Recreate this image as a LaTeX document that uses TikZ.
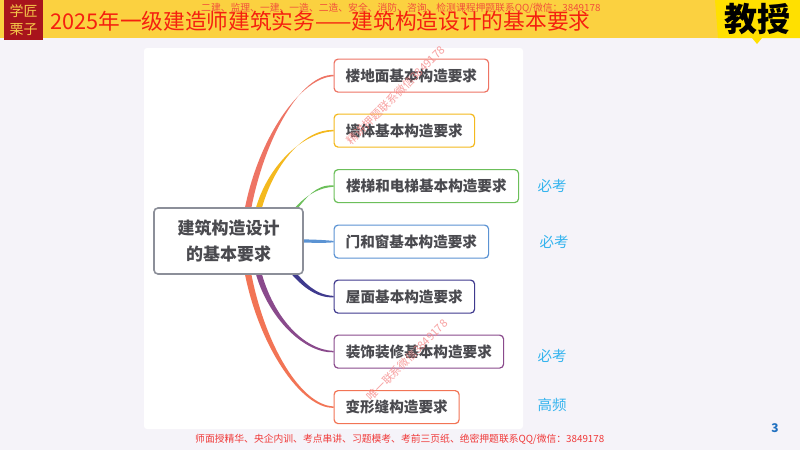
\documentclass[tikz,border=0pt]{standalone}
\usepackage{fontspec}
\setmainfont{Noto Sans CJK SC}
\usetikzlibrary{calc}
\pgfdeclarelayer{under}
\pgfsetlayers{under,main}
\definecolor{bgc}{HTML}{F5F3F9}
\definecolor{barc}{HTML}{FBD140}
\definecolor{tagc}{HTML}{FFE000}
\definecolor{logoc}{HTML}{A8141C}
\definecolor{logot}{HTML}{F5C84A}
\definecolor{titlec}{HTML}{F5200F}
\definecolor{markc}{HTML}{F03A3A}
\definecolor{inkc}{HTML}{4A4A4F}
\definecolor{cyanc}{HTML}{35B4EE}
\definecolor{rootc}{HTML}{8C8F99}
\definecolor{pagec}{HTML}{2070C0}
\definecolor{cred}{HTML}{EE7464}
\definecolor{cyel}{HTML}{F4B91E}
\definecolor{cgrn}{HTML}{6CBF5A}
\definecolor{cblu}{HTML}{5B93D3}
\definecolor{cnav}{HTML}{3F3A8E}
\definecolor{cpur}{HTML}{8A4A8C}
\definecolor{cora}{HTML}{F27455}
\tikzset{
  x=1pt,y=1pt,
  topic/.style={draw=#1,line width=1.2pt,rounded corners=4pt,fill=white,anchor=north west,inner sep=0pt,text=inkc,font=\fontsize{14.6}{18}\selectfont\bfseries,align=center},
  rootbox/.style={draw=rootc,line width=1.6pt,rounded corners=4pt,fill=white,inner sep=0pt,text=inkc,font=\fontsize{17}{26}\selectfont\bfseries,align=center,minimum width=149pt,minimum height=66pt},
  tag/.style={text=cyanc,font=\fontsize{14.5}{16}\selectfont,inner sep=0pt},
  wm/.style={text=markc,font=\fontsize{#1}{12}\selectfont,inner sep=0pt},
  wmr/.style={text=markc!60,opacity=.8,font=\fontsize{#1}{12}\selectfont,inner sep=0pt,rotate=45},
}
\newcommand{\topicnode}[7]{% name, x0, y0, x1, y1, colour, text
  \node[topic=#6,minimum width=#4pt-#2pt,minimum height=#5pt-#3pt] (#1) at (#2,-#3) {#7};}
% colour, start point, half-width offset at the start, target node, first control, second control
\newcommand{\taper}[6]{%
  \fill[#1] ($#2+#3$) .. controls ($#2+#3+#5$) and ($(#4.west)+#6+(0,1.7)$) .. ($(#4.west)+(0,.7)$)
     -- ($(#4.west)+(0,-.7)$) .. controls ($(#4.west)+#6+(0,-1.7)$) and ($#2-#3+#5$) .. ($#2-#3$) -- cycle;}
\begin{document}
\begin{tikzpicture}
\useasboundingbox (0,0) rectangle (800,-450);
% nodes
\node[rootbox] (root) at (228.5,-241) {建筑构造设计\\的基本要求};
\topicnode{a}{333.5}{58.5}{488}{91.5}{cred}{楼地面基本构造要求}
\topicnode{b}{333.5}{113.5}{474}{146.5}{cyel}{墙体基本构造要求}
\topicnode{c}{333.5}{169}{518}{202}{cgrn}{楼梯和电梯基本构造要求}
\topicnode{d}{333.5}{224.5}{488}{257.5}{cblu}{门和窗基本构造要求}
\topicnode{e}{333.5}{279.5}{474}{312.5}{cnav}{屋面基本构造要求}
\topicnode{f}{333.5}{334.5}{503}{367.5}{cpur}{装饰装修基本构造要求}
\topicnode{g}{333.5}{390}{458.5}{423}{cora}{变形缝构造要求}
\begin{pgfonlayer}{under}
\fill[bgc] (0,0) rectangle (800,-450);
\fill[white,rounded corners=3pt] (144,-48) rectangle (523,-429);
% connectors: tapered, running out from under the root box
\taper{cred}{(root.north)+(19,-4)}{(3.2,0)}{a}{(14,75)}{(-32,0)}
\taper{cyel}{(root.north)+(29.5,-4)}{(3,0)}{b}{(12,46)}{(-30,0)}
\taper{cgrn}{(root.north)+(65,-4)}{(2.4,.8)}{c}{(11,13)}{(-18,0)}
\taper{cblu}{(root.east)+(-3,0)}{(0,1.6)}{d}{(10,0)}{(-10,0)}
\taper{cnav}{(root.south)+(63,4)}{(2.2,.8)}{e}{(11,-13)}{(-18,0)}
\taper{cpur}{(root.south)+(29.5,4)}{(3,0)}{f}{(12,-46)}{(-30,0)}
\taper{cora}{(root.south)+(19,4)}{(3.2,0)}{g}{(14,-75)}{(-32,0)}
\end{pgfonlayer}
% header
\fill[barc] (0,0) rectangle (800,-38);
\fill[tagc] (715,0) -- (800,0) -- (800,-38) -- (762,-38) -- (757,-44) -- (752,-38) -- (718,-38) -- cycle;
\fill[logoc] (4,0) rectangle (43,-40);
\node[text=logot,font=\fontsize{14}{17.5}\selectfont,align=center,inner sep=0pt] (logo) at (23.5,-20) {学匠\\栗子};
\node[text=titlec,font=\fontsize{21.7}{24}\selectfont,anchor=west,inner sep=0pt] (title) at (50,-21) {2025年一级建造师建筑实务——建筑构造设计的基本要求};
\node[wm=9.8,anchor=west,opacity=.85] (topmark) at (201,-8.5) {二建、监理、一建、一造、二造、安全、消防、咨询、检测课程押题联系QQ/微信：3849178};
\node[font=\fontsize{33}{36}\selectfont\bfseries,text=black,inner sep=0pt] (prof) at (757,-19) {教授};
% tags and marks
\node[tag] (t1) at (552,-186) {必考};
\node[tag] (t2) at (554,-242) {必考};
\node[tag] (t3) at (552,-356) {必考};
\node[tag] (t4) at (552,-405) {高频};
\node[wmr=11.2] (w1) at (396,-95) {精讲押题联系微信3849178};
\node[wmr=11] (w2) at (407,-360) {唯一联系微信3849178};
\node[wm=9.8,anchor=west] (bottom) at (195,-439.5) {师面授精华、央企内训、考点串讲、习题模考、考前三页纸、绝密押题联系QQ/微信：3849178};
\node[text=pagec,font=\fontsize{12}{14}\selectfont\bfseries,inner sep=0pt] (page) at (775,-428) {3};
\end{tikzpicture}
\end{document}
